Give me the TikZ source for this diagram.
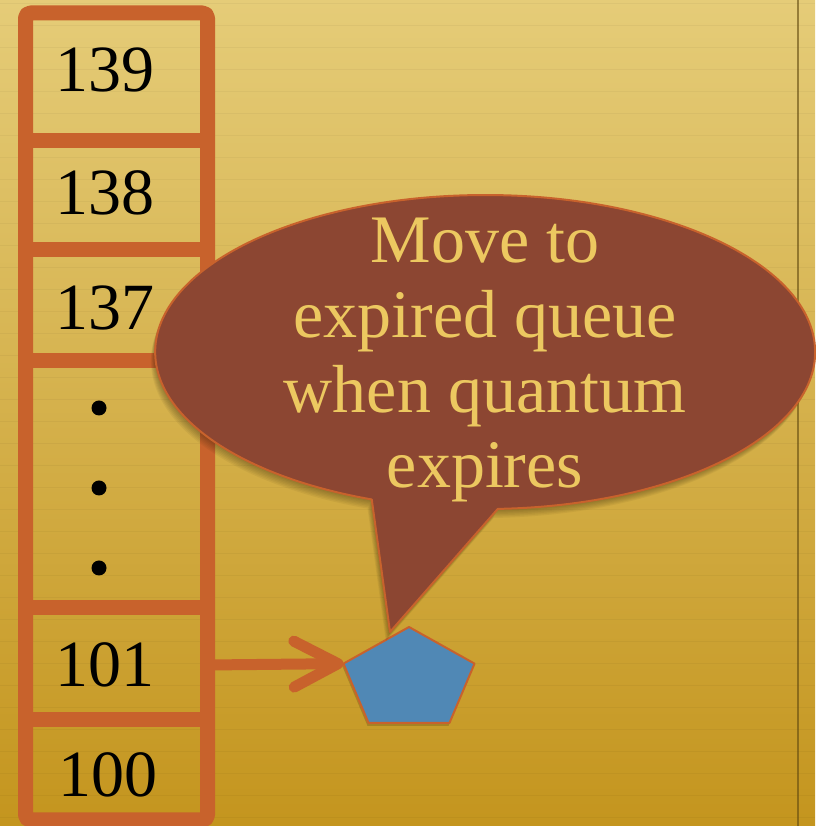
\documentclass[tikz,border=0pt]{standalone}
\usepackage{fontspec}
\setmainfont{Liberation Serif}
\usetikzlibrary{arrows.meta,shapes.geometric,shadows}
\definecolor{paperlight}{HTML}{E5CC78}
\definecolor{paperdark}{HTML}{C4951E}
\definecolor{slotedge}{HTML}{C8622C}
\definecolor{bubblefill}{HTML}{8C4632}
\definecolor{bubbletext}{HTML}{ECC860}
\definecolor{taskblue}{HTML}{5088B5}
\newcommand\bubbleoutline{(497.8,317.1) arc[start angle=272.2, end angle=609.9, x radius=330pt, y radius=157pt] -- (390,194) -- cycle}
\begin{document}
\begin{tikzpicture}[x=1pt, y=1pt, line join=round,
	slotline/.style={slotedge, line width=15pt},
	prio/.style={anchor=base west, font=\fontsize{66}{70}\selectfont},
	softshadow/.style={drop shadow={shadow xshift=-1pt, shadow yshift=-3pt, opacity=.2, fill=black!80!paperdark}}]
	\useasboundingbox (0,0) rectangle (815,826);
	\shade[top color=paperlight, bottom color=paperdark] (0,0) rectangle (815,826);
	\foreach \y in {8,30,...,826}
		\draw[black, opacity=.035, line width=1pt] (0,\y)--(815,\y);
	\draw[black!50!paperdark, opacity=.6, line width=1.5pt] (798,0)--(798,826);
	% priority array
	\draw[slotline, rounded corners=5pt] (25.5,6) rectangle (207.5,813);
	\foreach \y in {685,576,465,218,106}
		\draw[slotline] (25.5,\y)--(207.5,\y);
	\path
	(52,734) node[prio] (p139) {139}
	(52,611) node[prio] (p138) {138}
	(52,496) node[prio] (p137) {137}
	(52,139) node[prio] (p101) {101}
	(55,29) node[prio] (p100) {100};
	\foreach \y in {418,338,258}
		\fill (99,\y) circle[radius=7.5pt];
	% task
	\node[regular polygon, regular polygon sides=5, minimum size=106pt, inner sep=0pt, outer sep=0pt,
		xscale=1.3, fill=taskblue, draw=slotedge, line width=2pt, softshadow] (task) at (409,146) {};
	\draw[slotedge, line width=11pt, -{Straight Barb[length=44pt, width=46pt, round]}] (207.5,161)--(task.corner 2);
	% speech bubble, blurred shadow first
	\foreach \s in {1,...,7}
		\fill[black!85!paperdark, opacity=.055, xshift=-\s*0.6pt, yshift=-\s*1.3pt] \bubbleoutline;
	\path[fill=bubblefill, draw=slotedge, line width=2pt] \bubbleoutline;
	\node[align=center, text=bubbletext, font=\fontsize{68}{75}\selectfont] (note) at (485,466)
		{Move to\\expired queue\\when quantum\\expires};
\end{tikzpicture}
\end{document}
